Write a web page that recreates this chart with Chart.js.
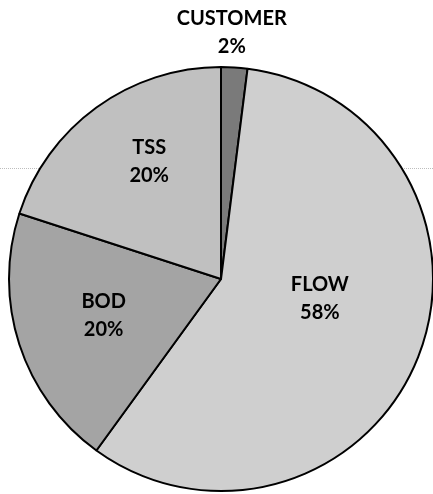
<!DOCTYPE html>
<html>
<head>
<meta charset="utf-8">
<script src="https://cdn.jsdelivr.net/npm/chart.js@4.4.1/dist/chart.umd.min.js"></script>
<style>
  html, body { margin: 0; padding: 0; background: #fff; }
</style>
</head>
<body>
<canvas id="myChart" width="433" height="494"></canvas>
<script>
var categories = ["CUSTOMER", "FLOW", "BOD", "TSS"];
var shares = [2, 58, 20, 20];

// where each label sits: clockwise angle from top (deg) and distance as fraction of radius
var labelPlacement = [
    { angle: 2.5, dist: 1.165 },
    { angle: 101, dist: 0.475 },
    { angle: 252.6, dist: 0.58 },
    { angle: 328.6, dist: 0.65 }
];

var scanLine = {
    id: 'scanLine',
    beforeDraw: function(chart) {
        var ctx = chart.ctx;
        ctx.save();
        ctx.fillStyle = '#fff';
        ctx.fillRect(0, 0, chart.width, chart.height);
        ctx.strokeStyle = '#bdbdbd';
        ctx.lineWidth = 1;
        ctx.setLineDash([1, 1]);
        ctx.beginPath();
        ctx.moveTo(0, 168.5);
        ctx.lineTo(chart.width, 168.5);
        ctx.stroke();
        ctx.restore();
    }
};

var sliceLabels = {
    id: 'sliceLabels',
    afterDraw: function(chart) {
        var ctx = chart.ctx;
        var meta = chart.getDatasetMeta(0);
        var total = shares.reduce(function(a, b) { return a + b; }, 0);
        ctx.save();
        ctx.font = 'bold 20px Lato';
        ctx.fillStyle = '#000';
        ctx.textAlign = 'center';
        ctx.textBaseline = 'middle';
        for (var i = 0; i < meta.data.length; i++) {
            var arc = meta.data[i];
            var p = labelPlacement[i];
            var a = p.angle * Math.PI / 180;
            var r = arc.outerRadius * p.dist;
            var x = arc.x + Math.sin(a) * r;
            var y = arc.y - Math.cos(a) * r;
            ctx.fillText(categories[i], x, y - 14);
            ctx.fillText(Math.round(shares[i] / total * 100) + '%', x, y + 14);
        }
        ctx.restore();
    }
};

var ctx = document.getElementById('myChart');

var pieChart = new Chart(ctx, {
    type: 'pie',
    data: {
        labels: categories,
        datasets: [{
            data: shares,
            backgroundColor: ["#7a7a7a", "#cfcfcf", "#a4a4a4", "#c0c0c0"],
            borderColor: '#000',
            borderWidth: 2
        }]
    },
    options: {
        responsive: false,
        animation: false,
        radius: 212,
        layout: {
            padding: { left: 9, right: 0, top: 64, bottom: 0 }
        },
        plugins: {
            legend: { display: false },
            tooltip: { enabled: false }
        }
    },
    plugins: [scanLine, sliceLabels]
});
</script>
</body>
</html>
